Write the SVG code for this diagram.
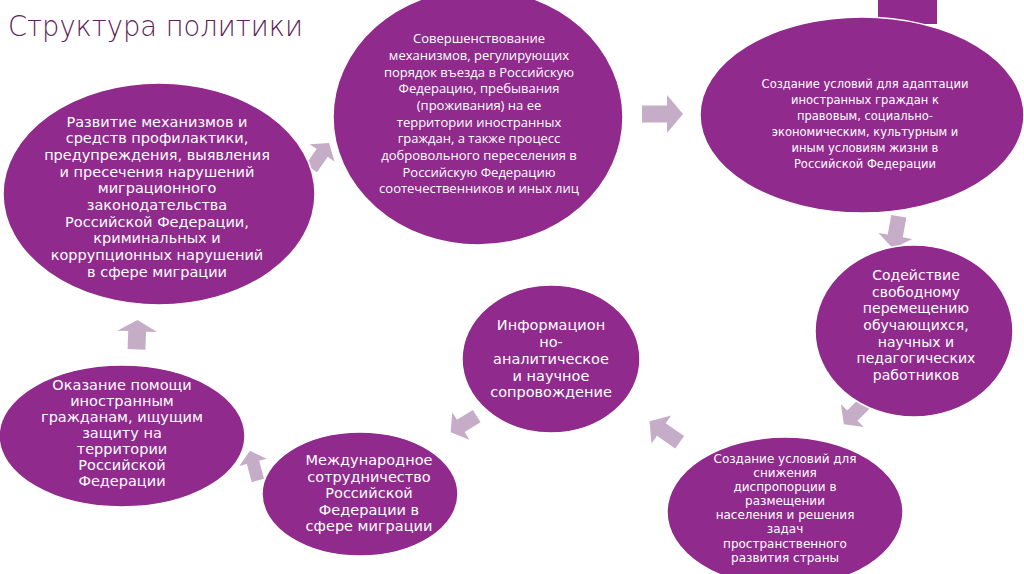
<svg xmlns="http://www.w3.org/2000/svg" width="1024" height="574" viewBox="0 0 1024 574">
<style>
.node{fill:#902a8c;stroke:#ffffff;stroke-width:1.5}
.t{font-family:"DejaVu Sans",sans-serif;fill:#ffffff;text-anchor:middle}
.c{font-family:"Open Sans","Liberation Sans",sans-serif;fill:#ffffff;text-anchor:middle;font-size:13px}
.arr{fill:#c5adc8}
</style>
<defs>
<path id="ar" d="M-20,-8.5 L5,-8.5 L5,-19 L21,0 L5,19 L5,8.5 L-20,8.5 Z"/>
</defs>
<rect width="1024" height="574" fill="#ffffff"/>
<rect x="878" y="0" width="59" height="24" fill="#902a8c"/>
<text x="8" y="36" font-family="'DejaVu Sans',sans-serif" font-weight="200" font-size="28" fill="#5e1e5b" textLength="295" lengthAdjust="spacingAndGlyphs">Структура политики</text>
<g id="connectors" class="arr">
<use href="#ar" transform="translate(320,156) rotate(-55) scale(0.75,0.8)"/>
<use href="#ar" transform="translate(662,114)"/>
<use href="#ar" transform="translate(896,232) rotate(100) scale(0.8,0.9)"/>
<use href="#ar" transform="translate(855,413) rotate(135) scale(0.75,0.85)"/>
<use href="#ar" transform="translate(665,432) rotate(-145) scale(0.9,0.9)"/>
<use href="#ar" transform="translate(464,424) rotate(148) scale(0.75,0.85)"/>
<use href="#ar" transform="translate(254,466) rotate(-105) scale(0.75,0.75)"/>
<use href="#ar" transform="translate(137,335) rotate(-88) scale(0.72,1.05)"/>
</g>
<g id="n1">
<ellipse class="node" cx="478" cy="117" rx="145" ry="128"/>
<text class="c"><tspan x="479" y="43">Совершенствование</tspan><tspan x="479" y="60">механизмов, регулирующих</tspan><tspan x="479" y="77">порядок въезда в Российскую</tspan><tspan x="479" y="93">Федерацию, пребывания</tspan><tspan x="479" y="110">(проживания) на ее</tspan><tspan x="479" y="127">территории иностранных</tspan><tspan x="479" y="143">граждан, а также процесс</tspan><tspan x="479" y="160">добровольного переселения в</tspan><tspan x="479" y="177">Российскую Федерацию</tspan><tspan x="479" y="193">соотечественников и иных лиц</tspan></text>
</g>
<g id="n2">
<ellipse class="node" cx="862" cy="115" rx="162" ry="98"/>
<text class="t" font-size="11.5"><tspan x="865" y="88">Создание условий для адаптации</tspan><tspan x="865" y="104">иностранных граждан к</tspan><tspan x="865" y="120">правовым, социально-</tspan><tspan x="865" y="136">экономическим, культурным и</tspan><tspan x="865" y="152">иным условиям жизни в</tspan><tspan x="865" y="168">Российской Федерации</tspan></text>
</g>
<g id="n3">
<ellipse class="node" cx="914" cy="331" rx="99" ry="86"/>
<text class="t" font-size="14"><tspan x="916" y="280">Содействие</tspan><tspan x="916" y="297">свободному</tspan><tspan x="916" y="313">перемещению</tspan><tspan x="916" y="330">обучающихся,</tspan><tspan x="916" y="347">научных и</tspan><tspan x="916" y="363">педагогических</tspan><tspan x="916" y="380">работников</tspan></text>
</g>
<g id="n4">
<ellipse class="node" cx="785" cy="512" rx="118" ry="75"/>
<text class="t" font-size="12"><tspan x="785" y="463">Создание условий для</tspan><tspan x="785" y="477">снижения</tspan><tspan x="785" y="491">диспропорции в</tspan><tspan x="785" y="505">размещении</tspan><tspan x="785" y="519">населения и решения</tspan><tspan x="785" y="533">задач</tspan><tspan x="785" y="548">пространственного</tspan><tspan x="785" y="562">развития страны</tspan></text>
</g>
<g id="n5">
<ellipse class="node" cx="551" cy="359" rx="89" ry="74"/>
<text class="t" font-size="14.5"><tspan x="551" y="330">Информацион</tspan><tspan x="551" y="347">но-</tspan><tspan x="551" y="364">аналитическое</tspan><tspan x="551" y="381">и научное</tspan><tspan x="551" y="397">сопровождение</tspan></text>
</g>
<g id="n6">
<ellipse class="node" cx="360" cy="494" rx="98" ry="62"/>
<text class="t" font-size="14.5"><tspan x="369" y="465">Международное</tspan><tspan x="369" y="482">сотрудничество</tspan><tspan x="369" y="498">Российской</tspan><tspan x="369" y="515">Федерации в</tspan><tspan x="369" y="531">сфере миграции</tspan></text>
</g>
<g id="n7">
<ellipse class="node" cx="122" cy="436" rx="123" ry="71"/>
<text class="t" font-size="14.5"><tspan x="122" y="390">Оказание помощи</tspan><tspan x="122" y="406">иностранным</tspan><tspan x="122" y="422">гражданам, ищущим</tspan><tspan x="122" y="438">защиту на</tspan><tspan x="122" y="454">территории</tspan><tspan x="122" y="470">Российской</tspan><tspan x="122" y="486">Федерации</tspan></text>
</g>
<g id="n8">
<ellipse class="node" cx="159" cy="194" rx="156" ry="111"/>
<text class="t" font-size="14.5"><tspan x="157" y="127">Развитие механизмов и</tspan><tspan x="157" y="143">средств профилактики,</tspan><tspan x="157" y="160">предупреждения, выявления</tspan><tspan x="157" y="177">и пресечения нарушений</tspan><tspan x="157" y="193">миграционного</tspan><tspan x="157" y="210">законодательства</tspan><tspan x="157" y="227">Российской Федерации,</tspan><tspan x="157" y="243">криминальных и</tspan><tspan x="157" y="260">коррупционных нарушений</tspan><tspan x="157" y="277">в сфере миграции</tspan></text>
</g>
</svg>
